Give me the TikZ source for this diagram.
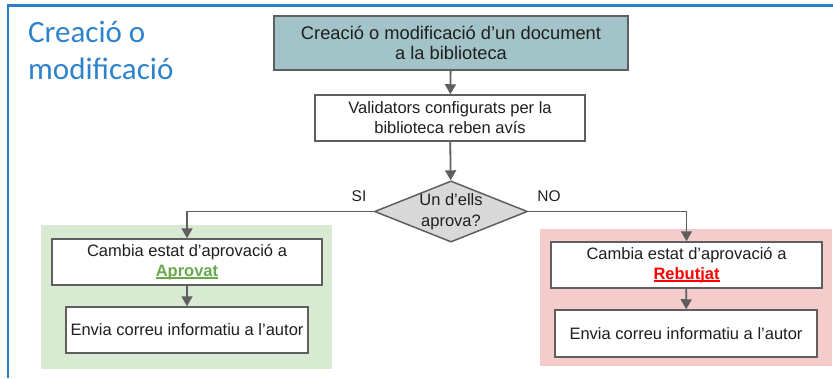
\documentclass[tikz,border=0pt]{standalone}
\usepackage{fontspec}
\setmainfont{Liberation Sans}
\newfontfamily\titlefont{Carlito}
\usetikzlibrary{arrows.meta,shapes.geometric}
\definecolor{framec}{HTML}{2E7EC4}
\definecolor{titlec}{HTML}{2E83CB}
\definecolor{boxline}{HTML}{5F5F5F}
\definecolor{topfill}{HTML}{A2C4C9}
\definecolor{greenreg}{HTML}{D9EAD3}
\definecolor{redreg}{HTML}{F4CCCC}
\definecolor{diafill}{HTML}{D9D9D9}
\definecolor{textc}{HTML}{1F1F1F}
\definecolor{aprovc}{HTML}{6AA84F}
\definecolor{rebutc}{HTML}{FF0000}
\newcommand\ulcol[1]{\setbox0\hbox{#1}\rlap{\rule[-2.4pt]{\wd0}{1.3pt}}\box0}
\tikzset{
  box/.style={draw=boxline, line width=1.5pt, fill=white, align=center, inner sep=0pt,
    text=textc, font=\fontsize{16.5}{20}\selectfont},
  region/.style={inner sep=0pt, draw=none},
  arr/.style={draw=boxline, line width=1.8pt, -{Triangle[length=10pt,width=11pt]}},
  lbl/.style={text=textc, font=\fontsize{15.5}{18}\selectfont, inner sep=0pt},
  titlestyle/.style={text=titlec, font=\titlefont\fontsize{31}{37}\selectfont, inner sep=0pt, anchor=base west}
}
\begin{document}
\begin{tikzpicture}[x=1pt,y=-1pt]
\useasboundingbox (0,0) rectangle (833,378);
% frame
\draw[framec, line width=2.6pt] (8,378) -- (8,5.3) -- (833,5.3);
% title
\node[titlestyle] (t1) at (28,42) {Creació o};
\node[titlestyle] (t2) at (28,79) {modificació};
% regions
\node[region, fill=greenreg, minimum width=291pt, minimum height=144pt] (greg) at (186.5,297) {};
\node[region, fill=redreg, minimum width=292pt, minimum height=137pt] (rreg) at (686,297.5) {};
% boxes
\node[box, fill=topfill, minimum width=354pt, minimum height=54pt,
      font=\fontsize{18.3}{20.5}\selectfont] (top) at (451,43)
  {Creació o modificació d’un document\\a la biblioteca};
\node[box, minimum width=270pt, minimum height=46pt] (val) at (450,118)
  {Validators configurats per la\\biblioteca reben avís};
\node[draw=boxline, line width=1.5pt, fill=diafill, shape=diamond, aspect=2.5,
      minimum width=151pt, minimum height=61pt, inner sep=0pt, align=center,
      text=textc, font=\fontsize{16.5}{20.5}\selectfont] (dec) at (451,211.5)
  {Un d’ells\\aprova?};
\node[box, minimum width=270pt, minimum height=46pt] (g1) at (187,262)
  {Cambia estat d’aprovació a\\{\color{aprovc}\ulcol{\textbf{Aprovat}}}};
\node[box, minimum width=242pt, minimum height=46pt] (g2) at (187,330)
  {Envia correu informatiu a l’autor};
\node[box, minimum width=271pt, minimum height=46pt] (r1) at (686.5,265)
  {Cambia estat d’aprovació a\\{\color{rebutc}\ulcol{\textbf{Rebutjat}}}};
\node[box, minimum width=262pt, minimum height=47pt] (r2) at (686,333.5)
  {Envia correu informatiu a l’autor};
% labels
\node[lbl] (si) at (359,196) {SI};
\node[lbl] (no) at (549,196) {NO};
% connectors
\draw[arr] (top) -- (val);
\draw[arr] (val) -- (dec);
\draw[arr] (dec.west) -| (g1.north);
\draw[arr] (dec.east) -| (r1.north);
\draw[arr] (g1) -- (g2);
\draw[arr] (r1) -- (r2);
\end{tikzpicture}
\end{document}
